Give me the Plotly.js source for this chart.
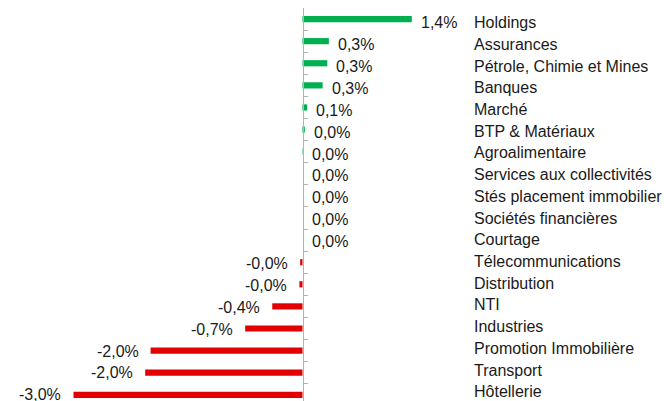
<!DOCTYPE html>
<html>
<head>
<meta charset="utf-8">
<script src="https://cdn.plot.ly/plotly-3.0.1.min.js"></script>
<style>html,body{margin:0;padding:0;background:#fff;}#chart{width:664px;height:401px;}</style>
</head>
<body>
<div id="chart"></div>
<script>
// Sector performance (%)
const categories = [
  "Holdings", "Assurances", "Pétrole, Chimie et Mines", "Banques", "Marché",
  "BTP & Matériaux", "Agroalimentaire", "Services aux collectivités",
  "Stés placement immobilier", "Sociétés financières", "Courtage",
  "Télecommunications", "Distribution", "NTI", "Industries",
  "Promotion Immobilière", "Transport", "Hôtellerie"
];
const values = [
  1.41, 0.34, 0.32, 0.26, 0.06,
  0.03, 0.005, 0, 0,
  0, 0,
  -0.03, -0.04, -0.39, -0.74,
  -1.96, -2.03, -2.955
];
const positiveColor = "#00b050";
const negativeColor = "#e30000";

const fmt = v => v.toFixed(1).replace(".", ",") + "%";

const trace = {
  type: "bar",
  orientation: "h",
  x: values,
  y: categories,
  width: 0.28,
  marker: { color: values.map(v => v >= 0 ? positiveColor : negativeColor) },
  hoverinfo: "x+y"
};

const font = { family: "Liberation Sans, Arial, Helvetica, sans-serif", size: 16, color: "#1a1a1a" };

const annotations = [];
categories.forEach((c, i) => {
  const v = values[i];
  annotations.push({
    x: v, y: c, xref: "x", yref: "y",
    text: fmt(v), showarrow: false,
    xanchor: v >= 0 ? "left" : "right",
    xshift: v >= 0 ? 7 : -10, yshift: 0.22 * i - 3.7,
    font: font
  });
  annotations.push({
    x: (472 - 10) / 450, y: c, xref: "paper", yref: "y",
    text: c, showarrow: false, xanchor: "left", yshift: 0.4 * i - 3.7,
    font: font
  });
});

const layout = {
  width: 664, height: 401,
  margin: { l: 10, r: 204, t: 8, b: 0 },
  paper_bgcolor: "#ffffff", plot_bgcolor: "#ffffff",
  showlegend: false,
  xaxis: {
    range: [-292.5 / 77.5, 157.5 / 77.5],
    visible: false, showgrid: false, zeroline: false, fixedrange: true
  },
  yaxis: {
    type: "category",
    range: [17.28, -0.5],
    anchor: "free", position: 292.5 / 450,
    showline: true, linecolor: "#b3b3b3", linewidth: 1.5,
    ticks: "inside", ticklen: 4, tickcolor: "#b3b3b3", tickwidth: 1,
    tickson: "boundaries",
    showticklabels: false, showgrid: false, zeroline: false
  },
  annotations: annotations,
  font: font
};

Plotly.newPlot("chart", [trace], layout, { staticPlot: true, displayModeBar: false });
</script>
</body>
</html>
